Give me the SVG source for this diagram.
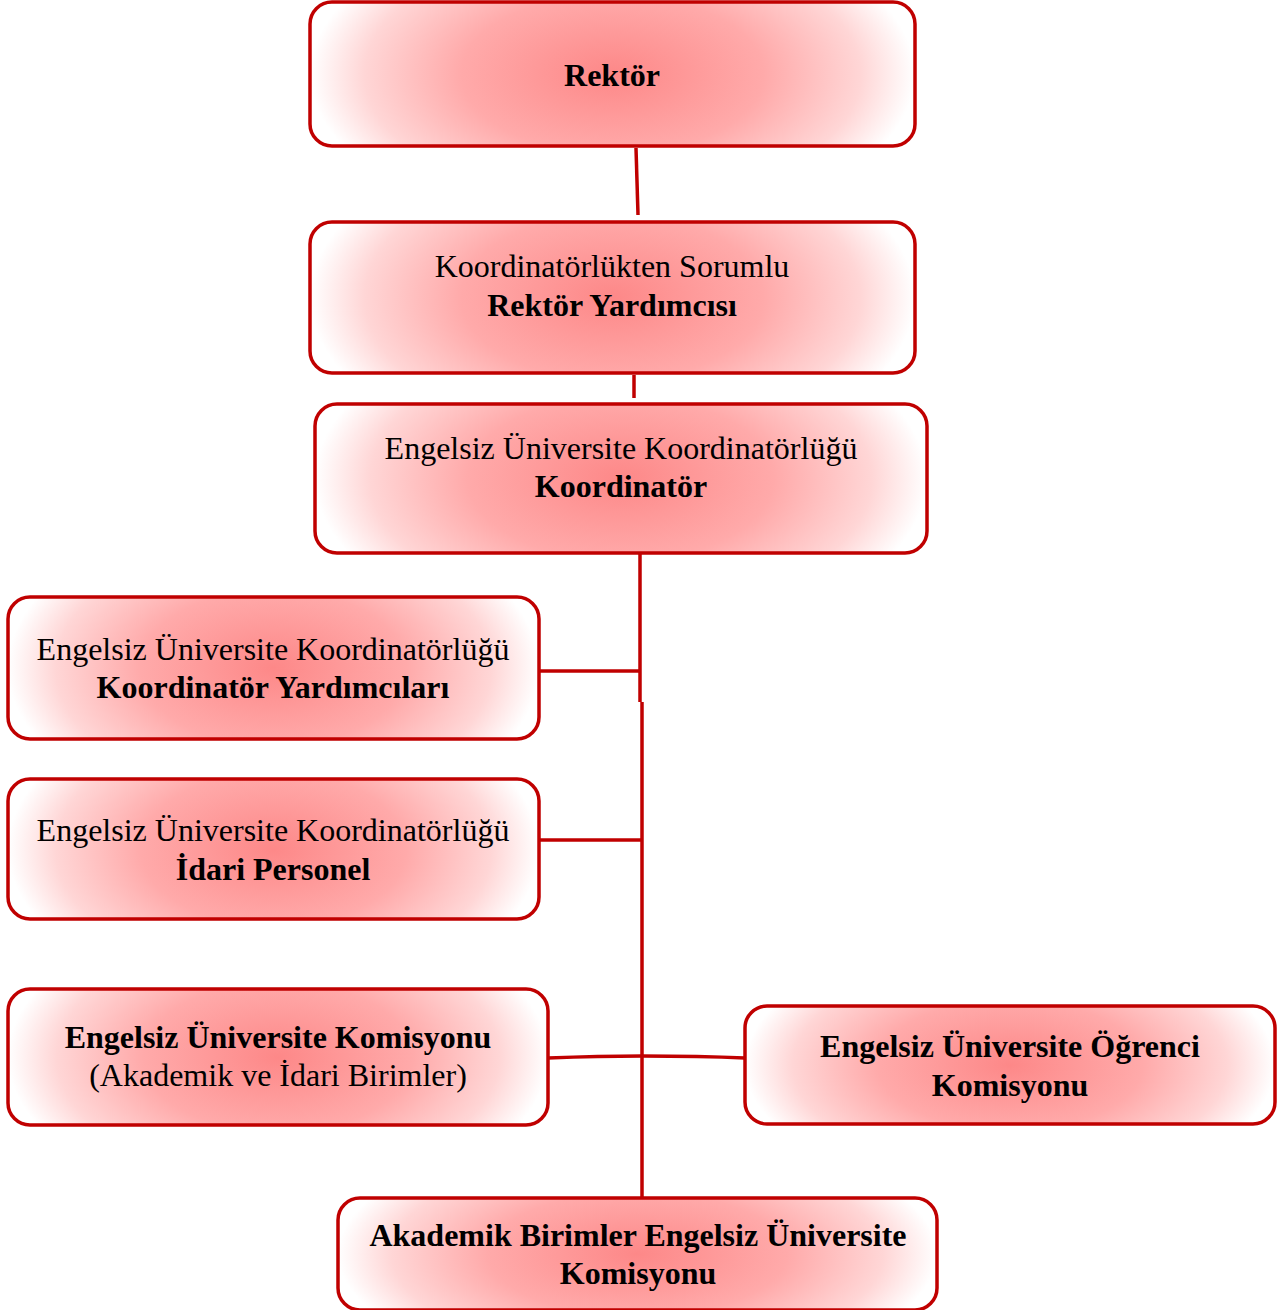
<svg xmlns="http://www.w3.org/2000/svg" width="1286" height="1310" viewBox="0 0 1286 1310">
<defs>
<radialGradient id="g" cx="0.5" cy="0.5" r="0.5" gradientTransform="translate(0.5,0.5) scale(1,2.2) translate(-0.5,-0.5)">
<stop offset="0" stop-color="#fd8888"/>
<stop offset="0.5" stop-color="#ffaaaa"/>
<stop offset="0.82" stop-color="#ffd6d6"/>
<stop offset="1" stop-color="#ffffff"/>
</radialGradient>
</defs>
<style>
.box{fill:url(#g);stroke:#c00000;stroke-width:3.5}
.t{font-family:"Liberation Serif","Times New Roman",serif;font-size:32px;fill:#000;text-anchor:middle}
.b{font-weight:bold}
.c{fill:none;stroke:#c00000;stroke-width:3.5}
</style>
<g id="connectors">
<path class="c" d="M636 148 L638 215"/>
<path class="c" d="M634 375 L634 398"/>
<path class="c" d="M640 551 L640 702 M642 702 L642 1197"/>
<path class="c" d="M539 671 L639 671"/>
<path class="c" d="M539 840 L642 840"/>
<path class="c" d="M548 1058 Q600 1056 642 1056 Q700 1056 745 1058"/>
</g>
<g id="n1"><rect class="box" x="310" y="2" width="605" height="144" rx="22"/>
<text class="t b" x="612" y="86">Rektör</text></g>
<g id="n2"><rect class="box" x="310" y="222" width="605" height="151" rx="22"/>
<text class="t" x="612" y="277">Koordinatörlükten Sorumlu</text>
<text class="t b" x="612" y="316">Rektör Yardımcısı</text></g>
<g id="n3"><rect class="box" x="315" y="404" width="612" height="149" rx="22"/>
<text class="t" x="621" y="459">Engelsiz Üniversite Koordinatörlüğü</text>
<text class="t b" x="621" y="497">Koordinatör</text></g>
<g id="n4"><rect class="box" x="8" y="597" width="531" height="142" rx="22"/>
<text class="t" x="273" y="660">Engelsiz Üniversite Koordinatörlüğü</text>
<text class="t b" x="273" y="698">Koordinatör Yardımcıları</text></g>
<g id="n5"><rect class="box" x="8" y="779" width="531" height="140" rx="22"/>
<text class="t" x="273" y="841">Engelsiz Üniversite Koordinatörlüğü</text>
<text class="t b" x="273" y="880">İdari Personel</text></g>
<g id="n6"><rect class="box" x="8" y="989" width="540" height="136" rx="22"/>
<text class="t b" x="278" y="1048">Engelsiz Üniversite Komisyonu</text>
<text class="t" x="278" y="1086">(Akademik ve İdari Birimler)</text></g>
<g id="n7"><rect class="box" x="745" y="1006" width="530" height="118" rx="22"/>
<text class="t b" x="1010" y="1057">Engelsiz Üniversite Öğrenci</text>
<text class="t b" x="1010" y="1096">Komisyonu</text></g>
<g id="n8"><rect class="box" x="338" y="1198" width="599" height="112" rx="22"/>
<text class="t b" x="638" y="1246">Akademik Birimler Engelsiz Üniversite</text>
<text class="t b" x="638" y="1284">Komisyonu</text></g>
</svg>
